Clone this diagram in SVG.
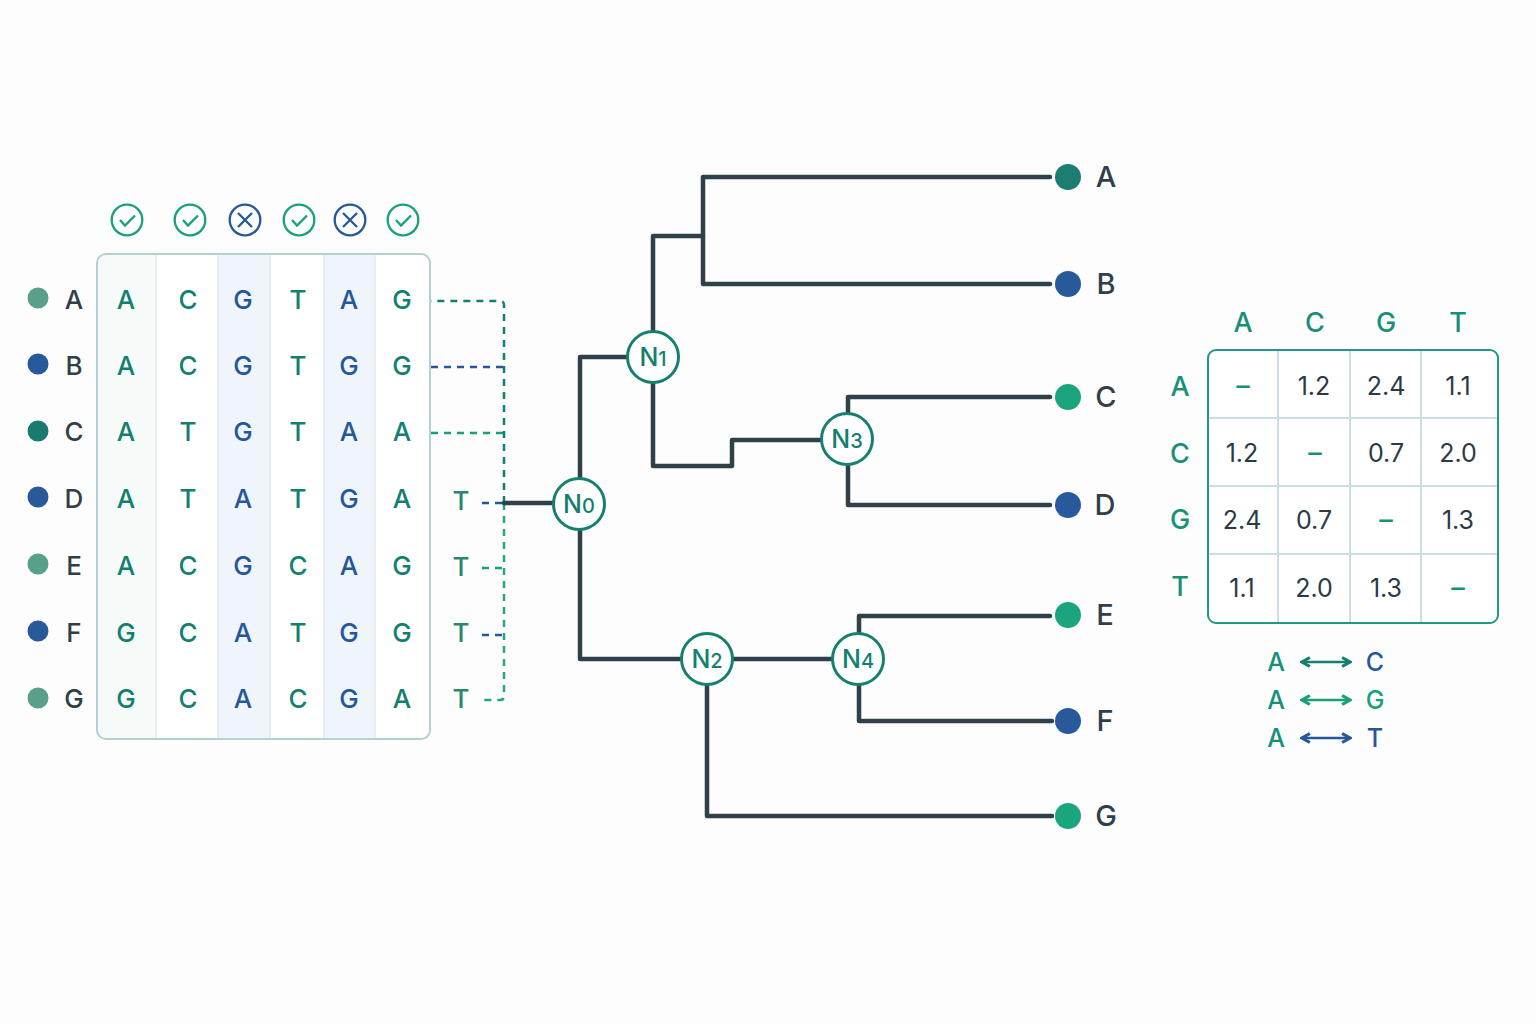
<svg xmlns="http://www.w3.org/2000/svg" width="1536" height="1024" viewBox="0 0 1536 1024">
<style>
text{font-family:Inter,"Liberation Sans",sans-serif;text-anchor:middle;font-weight:500}
.s{font-size:26px}
.t{fill:#13806f}.b{fill:#24589b}.d{fill:#2f3f4a}.g{fill:#17a07a}
.tt{fill:#2a8574}
.l{font-size:26px;fill:#2f3f4a}
.r{font-size:29px;fill:#2f3f4a}
.n{font-size:25px;fill:#2b3a47;font-weight:400}
.h{font-size:27px;fill:#17907a}
.tree{fill:none;stroke:#2f4049;stroke-width:4.5;stroke-linejoin:round;stroke-linecap:round}
.dash{fill:none;stroke-width:2.5;stroke-dasharray:7 6}
.grid{stroke:#cddde6;stroke-width:2}
.node{fill:#fff;stroke:#16806f;stroke-width:3}
.nt{font-size:25px;fill:#13806f}
.nt tspan{font-size:20px}
.ok{fill:none;stroke:#17a07a;stroke-width:2.3}
.no{fill:none;stroke:#24589b;stroke-width:2.3}
.ar{fill:none;stroke-width:2.5}
.leg{font-size:25px}
</style>
<defs>
<marker id="at" viewBox="0 0 10 10" refX="8" refY="5" markerWidth="4.5" markerHeight="4.5" orient="auto-start-reverse"><path d="M1 1L8 5L1 9" fill="none" stroke="#13806f" stroke-width="2.8"/></marker>
<marker id="ag" viewBox="0 0 10 10" refX="8" refY="5" markerWidth="4.5" markerHeight="4.5" orient="auto-start-reverse"><path d="M1 1L8 5L1 9" fill="none" stroke="#17a07a" stroke-width="2.8"/></marker>
<marker id="ab" viewBox="0 0 10 10" refX="8" refY="5" markerWidth="4.5" markerHeight="4.5" orient="auto-start-reverse"><path d="M1 1L8 5L1 9" fill="none" stroke="#24589b" stroke-width="2.8"/></marker>
</defs>
<rect width="1536" height="1024" fill="#fdfdfd"/>

<g id="alignment">
<rect x="97" y="254" width="333" height="485" rx="9" fill="#fff"/>
<path d="M156 255H106a8 8 0 0 0-8 8V730a8 8 0 0 0 8 8H156Z" fill="#f6fbfa"/>
<rect x="218" y="255" width="52" height="483" fill="#f0f5fb"/>
<rect x="324" y="255" width="51" height="483" fill="#f0f5fb"/>
<path d="M156 255V738M218 255V738M270 255V738M324 255V738M375 255V738" stroke="#dfe9ee" stroke-width="1.5"/>
<rect x="97" y="254" width="333" height="485" rx="9" fill="none" stroke="#b1d2d2" stroke-width="2"/>
<g class="s">
<text class="t" x="126" y="309">A</text><text class="t" x="188" y="309">C</text><text class="b" x="243" y="309">G</text><text class="t" x="298" y="309">T</text><text class="b" x="349" y="309">A</text><text class="t" x="402" y="309">G</text>
<text class="t" x="126" y="375">A</text><text class="t" x="188" y="375">C</text><text class="b" x="243" y="375">G</text><text class="t" x="298" y="375">T</text><text class="b" x="349" y="375">G</text><text class="t" x="402" y="375">G</text>
<text class="t" x="126" y="441">A</text><text class="t" x="188" y="441">T</text><text class="b" x="243" y="441">G</text><text class="t" x="298" y="441">T</text><text class="b" x="349" y="441">A</text><text class="t" x="402" y="441">A</text>
<text class="t" x="126" y="508">A</text><text class="t" x="188" y="508">T</text><text class="b" x="243" y="508">A</text><text class="t" x="298" y="508">T</text><text class="b" x="349" y="508">G</text><text class="t" x="402" y="508">A</text>
<text class="t" x="126" y="575">A</text><text class="t" x="188" y="575">C</text><text class="b" x="243" y="575">G</text><text class="t" x="298" y="575">C</text><text class="b" x="349" y="575">A</text><text class="t" x="402" y="575">G</text>
<text class="t" x="126" y="642">G</text><text class="t" x="188" y="642">C</text><text class="b" x="243" y="642">A</text><text class="t" x="298" y="642">T</text><text class="b" x="349" y="642">G</text><text class="t" x="402" y="642">G</text>
<text class="t" x="126" y="708">G</text><text class="t" x="188" y="708">C</text><text class="b" x="243" y="708">A</text><text class="t" x="298" y="708">C</text><text class="b" x="349" y="708">G</text><text class="t" x="402" y="708">A</text>
<text class="tt" x="461" y="510">T</text><text class="tt" x="461" y="576">T</text><text class="tt" x="461" y="642">T</text><text class="tt" x="461" y="708">T</text>
</g>
</g>

<g id="taxa-left">
<circle cx="38" cy="298" r="10.5" fill="#589f8c"/><text class="l" x="74" y="309">A</text>
<circle cx="38" cy="364" r="10.5" fill="#27599b"/><text class="l" x="74" y="375">B</text>
<circle cx="38" cy="431" r="10.5" fill="#197a70"/><text class="l" x="74" y="441">C</text>
<circle cx="38" cy="497" r="10.5" fill="#27599b"/><text class="l" x="74" y="508">D</text>
<circle cx="38" cy="564" r="10.5" fill="#589f8c"/><text class="l" x="74" y="575">E</text>
<circle cx="38" cy="631" r="10.5" fill="#27599b"/><text class="l" x="74" y="642">F</text>
<circle cx="38" cy="698" r="10.5" fill="#589f8c"/><text class="l" x="74" y="708">G</text>
</g>

<g id="site-marks">
<g class="ok"><circle cx="127" cy="220" r="15.3"/><path d="M120 220l5 5.500 10-10"/></g>
<g class="ok"><circle cx="190" cy="220" r="15.3"/><path d="M183 220l5 5.500 10-10"/></g>
<g class="no"><circle cx="245" cy="220" r="15.3"/><path d="M238 213l14 14M252 213l-14 14"/></g>
<g class="ok"><circle cx="299" cy="220" r="15.3"/><path d="M292 220l5 5.500 10-10"/></g>
<g class="no"><circle cx="350" cy="220" r="15.3"/><path d="M343 213l14 14M357 213l-14 14"/></g>
<g class="ok"><circle cx="403" cy="220" r="15.3"/><path d="M396 220l5 5.500 10-10"/></g>
</g>

<g id="connectors">
<g class="dash">
<path d="M504 503V696Q504 700 500 700H482" stroke="#27a583"/>
<path d="M504 503V305Q504 301 500 301H431" stroke="#13806f"/>
<path d="M431 367H503" stroke="#24589b"/>
<path d="M431 433H503" stroke="#17a07a"/>
<path d="M482 503H503" stroke="#24589b"/>
<path d="M482 568H503" stroke="#17a07a"/>
<path d="M482 635H503" stroke="#24589b"/>
</g>
<g class="tree">
<path d="M504 503H579"/>
<path d="M628 357H580V659H707"/>
<path d="M653 331V236H703"/>
<path d="M1050 177H703V284H1050"/>
<path d="M653 357V466H732V440H847"/>
<path d="M1050 397H848V505H1050"/>
<path d="M707 659H858"/>
<path d="M707 659V816H1052"/>
<path d="M1050 616H859V721H1052"/>
</g>
</g>

<g id="N0"><circle class="node" cx="579" cy="504" r="25.500"/><text class="nt" x="579" y="513">N<tspan>0</tspan></text></g>
<g id="N1"><circle class="node" cx="653" cy="357" r="25.500"/><text class="nt" x="653" y="366">N<tspan>1</tspan></text></g>
<g id="N2"><circle class="node" cx="707" cy="659" r="25.500"/><text class="nt" x="707" y="668">N<tspan>2</tspan></text></g>
<g id="N3"><circle class="node" cx="847" cy="439" r="25.500"/><text class="nt" x="847" y="448">N<tspan>3</tspan></text></g>
<g id="N4"><circle class="node" cx="858" cy="659" r="25.500"/><text class="nt" x="858" y="668">N<tspan>4</tspan></text></g>

<g id="leaf-A"><circle cx="1068" cy="177" r="13" fill="#1c7d72"/><text class="r" x="1106" y="187">A</text></g>
<g id="leaf-B"><circle cx="1068" cy="284" r="13" fill="#27599b"/><text class="r" x="1106" y="294">B</text></g>
<g id="leaf-C"><circle cx="1068" cy="397" r="13" fill="#1ba57e"/><text class="r" x="1106" y="407">C</text></g>
<g id="leaf-D"><circle cx="1068" cy="505" r="13" fill="#27599b"/><text class="r" x="1105" y="515">D</text></g>
<g id="leaf-E"><circle cx="1068" cy="615" r="13" fill="#1ba57e"/><text class="r" x="1105" y="625">E</text></g>
<g id="leaf-F"><circle cx="1068" cy="721" r="13" fill="#27599b"/><text class="r" x="1105" y="731">F</text></g>
<g id="leaf-G"><circle cx="1068" cy="816" r="13" fill="#1ba57e"/><text class="r" x="1106" y="826">G</text></g>

<g id="matrix">
<rect x="1208" y="350" width="290" height="273" rx="8" fill="#fff"/>
<path class="grid" d="M1278 351V622M1350 351V622M1421 351V622M1209 418H1497M1209 486H1497M1209 554H1497"/>
<rect x="1208" y="350" width="290" height="273" rx="8" fill="none" stroke="#1f9a80" stroke-width="2"/>
<text class="h" x="1243" y="332">A</text><text class="h" x="1315" y="332">C</text><text class="h" x="1386" y="332">G</text><text class="h" x="1458" y="332">T</text>
<text class="h" x="1180" y="396">A</text><text class="h" x="1180" y="463">C</text><text class="h" x="1180" y="529">G</text><text class="h" x="1180" y="596">T</text>
<text class="h" x="1243" y="395">–</text><text class="n" x="1314" y="395">1.2</text><text class="n" x="1386" y="395">2.4</text><text class="n" x="1458" y="395">1.1</text>
<text class="n" x="1242" y="462">1.2</text><text class="h" x="1315" y="462">–</text><text class="n" x="1386" y="462">0.7</text><text class="n" x="1458" y="462">2.0</text>
<text class="n" x="1242" y="529">2.4</text><text class="n" x="1314" y="529">0.7</text><text class="h" x="1386" y="529">–</text><text class="n" x="1458" y="529">1.3</text>
<text class="n" x="1242" y="597">1.1</text><text class="n" x="1314" y="597">2.0</text><text class="n" x="1386" y="597">1.3</text><text class="h" x="1458" y="597">–</text>
</g>

<g id="legend">
<text class="leg" x="1276" y="671" fill="#17907a">A</text><text class="leg" x="1375" y="671" fill="#24589b">C</text>
<text class="leg" x="1276" y="709" fill="#17907a">A</text><text class="leg" x="1375" y="709" fill="#17a07a">G</text>
<text class="leg" x="1276" y="747" fill="#17907a">A</text><text class="leg" x="1375" y="747" fill="#24589b">T</text>
<path class="ar" d="M1302 662H1350" stroke="#13806f" marker-start="url(#at)" marker-end="url(#at)"/>
<path class="ar" d="M1302 700H1350" stroke="#17a07a" marker-start="url(#ag)" marker-end="url(#ag)"/>
<path class="ar" d="M1302 738H1350" stroke="#24589b" marker-start="url(#ab)" marker-end="url(#ab)"/>
</g>
</svg>
